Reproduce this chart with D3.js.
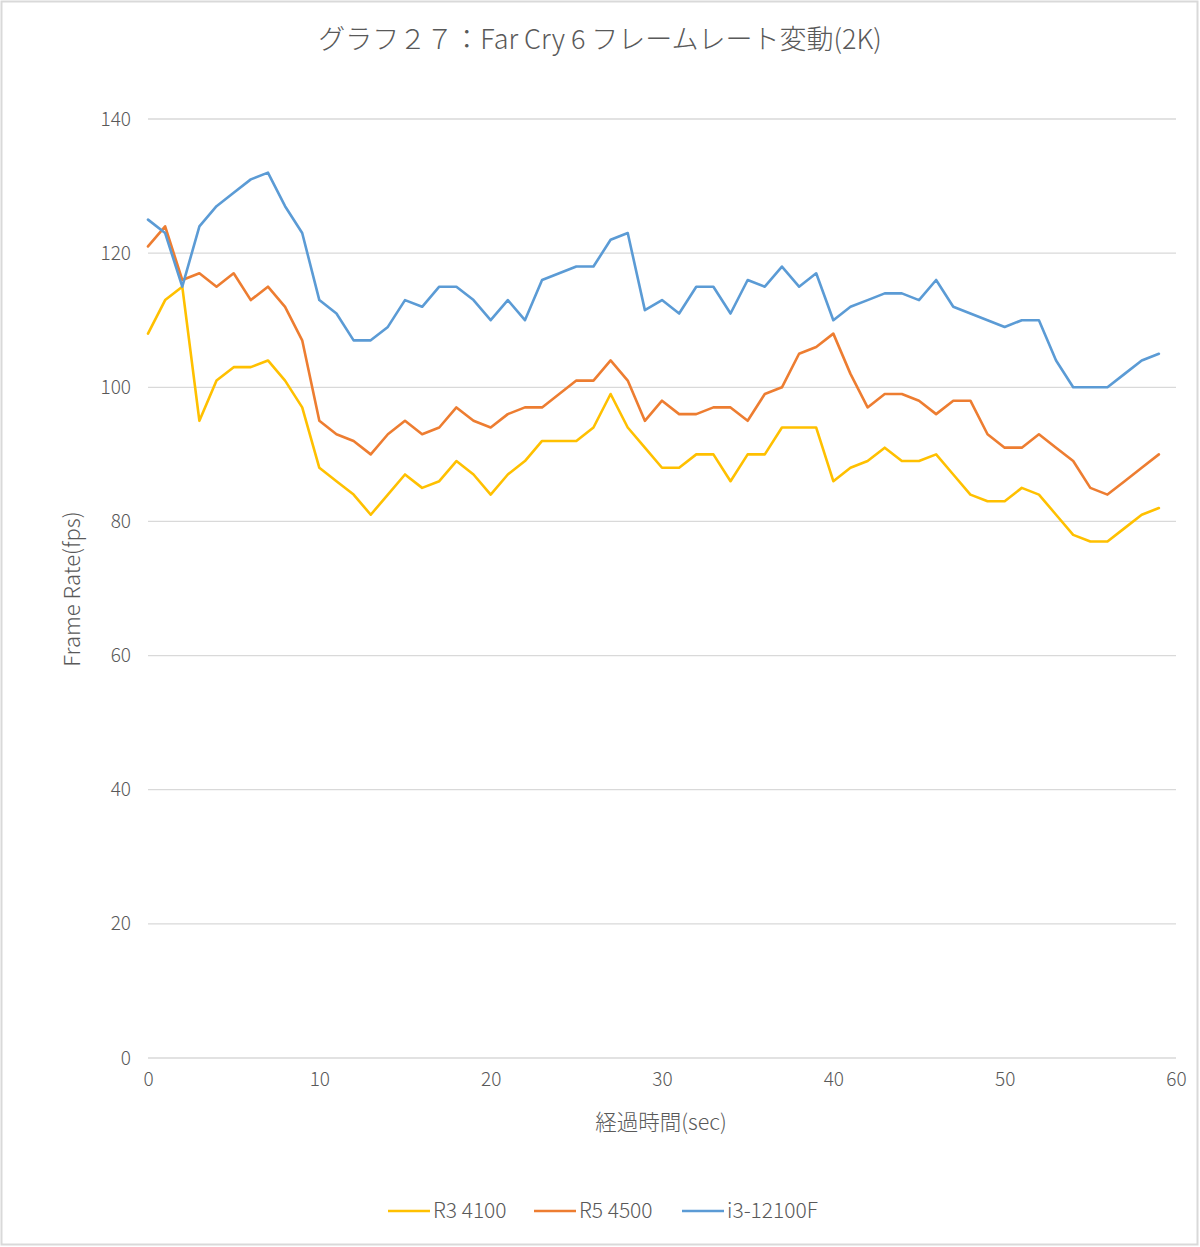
<!DOCTYPE html>
<html><head><meta charset="utf-8">
<script src="https://cdn.jsdelivr.net/npm/d3@7"></script>
<style>
body{margin:0;background:#fff;}
text{font-family:"Noto Sans CJK JP","Noto Sans",sans-serif;fill:#595959;font-weight:300;}
</style></head>
<body>
<svg id="chart" width="1200" height="1247"></svg>
<script>
const title = "グラフ２７：Far Cry 6 フレームレート変動(2K)";
const xTitle = "経過時間(sec)";
const yTitle = "Frame Rate(fps)";
const seriesNames = ["R3 4100", "R5 4500", "i3-12100F"];
const seriesColors = ["#FFC000", "#ED7D31", "#5B9BD5"];
const xTicks = [0,10,20,30,40,50,60];
const yTicks = [0,20,40,60,80,100,120,140];
const r3 = [108,113,115,95,101,103,103,104,101,97,88,86,84,81,84,87,85,86,89,87,84,87,89,92,92,92,94,99,94,91,88,88,90,90,86,90,90,94,94,94,86,88,89,91,89,89,90,87,84,83,83,85,84,81,78,77,77,79,81,82];
const r5 = [121,124,116,117,115,117,113,115,112,107,95,93,92,90,93,95,93,94,97,95,94,96,97,97,99,101,101,104,101,95,98,96,96,97,97,95,99,100,105,106,108,102,97,99,99,98,96,98,98,93,91,91,93,91,89,85,84,86,88,90];
const i3 = [125,123,115,124,127,129,131,132,127,123,113,111,107,107,109,113,112,115,115,113,110,113,110,116,117,118,118,122,123,111.5,113,111,115,115,111,116,115,118,115,117,110,112,113,114,114,113,116,112,111,110,109,110,110,104,100,100,100,102,104,105];
const allSeries = [r3, r5, i3];

const svg = d3.select("#chart");
svg.append("rect").attr("x",1.5).attr("y",1.5).attr("width",1196).attr("height",1243)
  .attr("fill","#fff").attr("stroke","#d9d9d9").attr("stroke-width",2);

const x = d3.scaleLinear().domain([0,60]).range([148,1176]);
const y = d3.scaleLinear().domain([0,140]).range([1058,119]);

svg.append("g").selectAll("line").data(yTicks).join("line")
  .attr("x1",x(0)).attr("x2",x(60))
  .attr("y1",d=>y(d)).attr("y2",d=>y(d))
  .attr("stroke","#d9d9d9").attr("stroke-width",1.3);

const yAxis = svg.append("g").attr("transform",`translate(${x(0)},0)`)
  .call(d3.axisLeft(y).tickValues(yTicks).tickSize(0).tickPadding(17));
yAxis.select(".domain").remove();
yAxis.selectAll("text").style("font-size","19px").attr("fill","#595959")
  .style("font-family",'"Noto Sans CJK JP",sans-serif').style("font-weight","300");

const xAxis = svg.append("g").attr("transform",`translate(0,${y(0)})`)
  .call(d3.axisBottom(x).tickValues(xTicks).tickSize(0).tickPadding(15));
xAxis.select(".domain").remove();
xAxis.selectAll("text").style("font-size","19px").attr("fill","#595959")
  .style("font-family",'"Noto Sans CJK JP",sans-serif').style("font-weight","300");

const line = d3.line().x((d,i)=>x(i)).y(d=>y(d));
allSeries.forEach((s,k)=>{
  svg.append("path").datum(s).attr("d",line)
    .attr("fill","none").attr("stroke",seriesColors[k])
    .attr("stroke-width",2.6).attr("stroke-linejoin","round").attr("stroke-linecap","round");
});

svg.append("text").attr("x",600).attr("y",49).attr("text-anchor","middle")
  .style("font-size","27px").text(title);
svg.append("text").attr("x",661).attr("y",1130).attr("text-anchor","middle")
  .style("font-size","21.5px").text(xTitle);
svg.append("text").attr("transform","translate(80,589) rotate(-90)").attr("text-anchor","middle")
  .style("font-size","22px").text(yTitle);

const legX = [388, 534, 682];
seriesNames.forEach((n,k)=>{
  svg.append("line").attr("x1",legX[k]).attr("x2",legX[k]+42)
    .attr("y1",1211).attr("y2",1211).attr("stroke",seriesColors[k]).attr("stroke-width",2.6);
  svg.append("text").attr("x",legX[k]+45).attr("y",1218)
    .style("font-size","21px").text(n);
});
</script>
</body></html>
